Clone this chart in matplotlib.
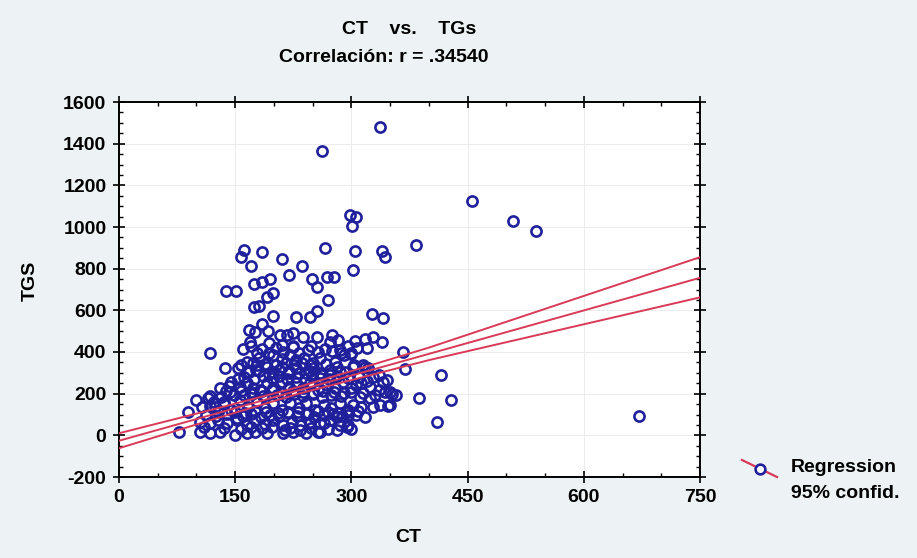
import numpy as np
import matplotlib
matplotlib.use('Agg')
import matplotlib.pyplot as plt
from matplotlib.lines import Line2D
from matplotlib.ticker import MultipleLocator

# scatter data (CT, TGs)
ct_outer = [337, 262, 298, 306, 301, 456, 509, 538, 383, 161, 158, 184, 266, 305, 339, 343,
            302, 170, 211, 236, 219, 249, 255, 268, 278, 174, 184, 195, 138, 151, 191, 199,
            270, 174, 181, 199, 229, 247, 255, 326, 341, 367, 369, 416, 387, 428, 410, 671,
            77, 117, 137, 89]
tg_outer = [1478, 1366, 1057, 1049, 1006, 1126, 1030, 981, 913, 890, 857, 878, 898, 886, 886, 854,
            793, 813, 845, 813, 770, 750, 713, 758, 758, 726, 734, 750, 693, 693, 665, 685,
            650, 614, 622, 574, 566, 569, 598, 582, 562, 401, 317, 289, 178, 169, 65, 93,
            14, 394, 322, 110]

ct_upper = [185, 168, 176, 192, 208, 217, 224, 238, 256, 275, 283, 272, 169, 193, 210, 225,
            305, 318, 328, 339, 320, 287, 299, 307, 160, 184, 193, 244, 257,
            170, 178, 203, 212, 224, 233, 248, 266, 275, 295, 285, 290, 299]
tg_upper = [533, 505, 494, 500, 481, 481, 490, 470, 470, 481, 457, 446, 449, 441, 433, 425,
            453, 461, 473, 446, 418, 394, 390, 418, 413, 413, 394, 410, 401,
            430, 395, 420, 400, 430, 396, 430, 416, 404, 430, 410, 385, 394]

ct_core = [165, 173, 181, 199, 211, 221, 229, 239, 251, 259,
           158, 178, 188, 203, 216, 226, 236, 246, 267, 279, 303,
           154, 165, 177, 191, 199, 210, 220, 229, 241, 251, 262, 272, 281, 292, 302, 315, 322, 318,
           161, 174, 186, 197, 206, 217, 228, 240, 249, 260, 271, 282, 295, 310, 320, 335, 346, 153, 341, 328,
           130, 138, 145, 156, 165, 173, 182, 191, 199, 210, 219, 229, 238, 247, 257, 268, 279, 289,
           300, 312, 324, 335, 343, 352, 350, 300,
           118, 132, 148, 161, 172, 186, 204, 215, 226, 238, 251, 262, 274, 286, 315, 331, 358, 324, 311,
           100, 107, 115, 124, 135, 145, 156, 167, 178, 189, 199, 210, 221, 232, 242, 253, 264, 274,
           285, 296, 302, 313, 328, 347, 350, 337,
           112, 125, 140, 160, 171, 183, 195, 206, 218, 230, 241, 252, 264, 276, 288, 306, 318, 296, 281,
           105, 117, 128, 139, 152, 165, 176, 188, 199, 212, 223, 234, 247, 259, 272, 285, 296, 264, 247,
           110, 136, 158, 171, 184, 198, 221, 248, 270, 300, 294,
           105, 117, 130, 150, 165, 176, 191, 212, 225, 242, 259, 214, 234, 257, 281]
tg_core = [353, 346, 370, 385, 365, 385, 361, 370, 346, 370,
           340, 336, 344, 338, 345, 338, 347, 336, 342, 350, 337,
           322, 305, 313, 329, 305, 329, 298, 322, 300, 322, 289, 313, 329, 305, 329, 337, 322, 329,
           281, 270, 284, 275, 287, 272, 280, 270, 285, 276, 270, 283, 274, 279, 262, 289, 265, 270, 257, 281,
           226, 214, 257, 233, 250, 226, 217, 250, 226, 257, 233, 250, 226, 250, 217, 241, 226, 257,
           226, 250, 233, 217, 209, 197, 209, 209,
           190, 185, 196, 192, 200, 188, 193, 186, 199, 190, 197, 186, 195, 188, 205, 195, 193, 178, 185,
           169, 137, 178, 137, 161, 121, 169, 137, 161, 130, 154, 121, 154, 130, 154, 121, 145, 130,
           154, 121, 145, 137, 137, 141, 145, 145,
           98, 92, 102, 95, 104, 90, 100, 93, 105, 95, 101, 88, 98, 104, 93, 100, 90, 97, 89,
           65, 57, 73, 57, 73, 50, 73, 54, 73, 50, 65, 50, 65, 57, 73, 50, 50, 57, 57,
           38, 35, 32, 38, 33, 40, 35, 36, 32, 30, 41,
           17, 10, 17, 0, 12, 17, 10, 10, 17, 10, 17, 25, 25, 17, 25]

# extra points filling gaps of the dense middle
ct_fill = [150, 163, 176, 190, 205, 218, 231, 244, 257, 270, 283, 296, 309,
           143, 157, 170, 184, 197, 211, 224, 237, 250, 263, 277, 290, 306,
           168, 181, 194, 207, 220, 233, 246, 259, 272, 285,
           122, 135, 152, 128, 118, 142]
tg_fill = [112, 108, 117, 111, 106, 114, 110, 107, 115, 111, 108, 113, 117,
           208, 214, 206, 211, 216, 205, 212, 208, 203, 214, 209, 205, 240,
           305, 310, 296, 312, 307, 301, 309, 297, 292, 305,
           160, 150, 82, 110, 140, 236]

ct_all = ct_outer + ct_upper + ct_core + ct_fill
tg_all = tg_outer + tg_upper + tg_core + tg_fill

# regression line and 95% band
fit_x = [0, 120, 230, 400, 750]
fit_mid = [-26, 99, 214, 391, 756]
fit_hi = [10, 123, 230, 421, 855]
fit_lo = [-62, 75, 198, 361, 662]

bg = '#edf2f4'
blue = '#20209c'
red = '#d83a58'
plt.rcParams['font.family'] = ['Liberation Sans', 'DejaVu Sans']
plt.rcParams['font.weight'] = 'bold'
plt.rcParams['axes.unicode_minus'] = False

fig = plt.figure(figsize=(9.17, 5.58), dpi=100, facecolor=bg)
ax = fig.add_axes([119/917, 1 - 477/558, 581/917, 375/558])
ax.set_facecolor('white')

ax.plot(ct_all, tg_all, 'o', ms=7.3, mfc='none', mec=blue, mew=1.9, zorder=3)
ax.plot(fit_x, fit_mid, color=red, lw=1.4, zorder=4)
ax.plot(fit_x, fit_hi, color=red, lw=1.4, zorder=4)
ax.plot(fit_x, fit_lo, color=red, lw=1.4, zorder=4)

ax.set_xlim(0, 750)
ax.set_ylim(-200, 1600)
ax.set_xticks(np.arange(0, 751, 150))
ax.set_yticks(np.arange(-200, 1601, 200))
ax.xaxis.set_minor_locator(MultipleLocator(50))
ax.yaxis.set_minor_locator(MultipleLocator(50))
ax.tick_params(which='major', direction='inout', length=8, width=1.2, labelsize=14,
               top=True, right=True, pad=5)
ax.tick_params(which='minor', direction='in', length=3, width=1, top=True, right=True)
for lab in ax.get_xticklabels() + ax.get_yticklabels():
    lab.set_fontweight('bold')
for s in ax.spines.values():
    s.set_linewidth(1.4)
ax.grid(True, which='major', color='#ececec', lw=0.7)
ax.set_axisbelow(True)

fig.text(409/917, 1 - 30/558, 'CT    vs.    TGs', ha='center', va='center', fontsize=14, fontweight='bold')
fig.text(384/917, 1 - 57/558, 'Correlación: r = .34540', ha='center', va='center', fontsize=14, fontweight='bold')
fig.text(408/917, 1 - 537/558, 'CT', ha='center', va='center', fontsize=14, fontweight='bold')
fig.text(30/917, 1 - 281/558, 'TGS', ha='center', va='center', rotation=90, fontsize=14, fontweight='bold')

# legend key
fig.add_artist(Line2D([742/917, 777/917], [1 - 460/558, 1 - 477/558], color=red, lw=1.6))
fig.add_artist(Line2D([760/917], [1 - 469/558], marker='o', ms=7, mfc='white', mec=blue, mew=1.9))
fig.text(791/917, 1 - 467/558, 'Regression', ha='left', va='center', fontsize=14, fontweight='bold')
fig.text(791/917, 1 - 494/558, '95% confid.', ha='left', va='center', fontsize=14, fontweight='bold')

fig.savefig('out.png', dpi=100, facecolor=bg)
